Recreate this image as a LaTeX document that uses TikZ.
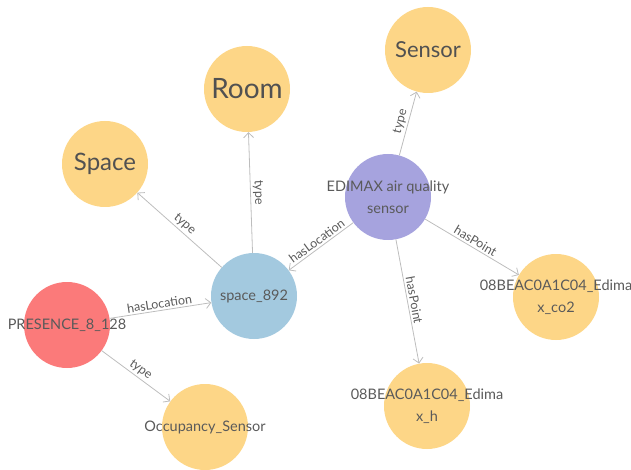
\documentclass[tikz,border=0pt]{standalone}
\usepackage{fontspec}
\setmainfont{Lato}
\usepackage{tikz}
\usetikzlibrary{arrows.meta}

\definecolor{yel}{HTML}{FDD687}
\definecolor{pur}{HTML}{A6A3DE}
\definecolor{blu}{HTML}{A3C9DF}
\definecolor{rd}{HTML}{FB7A7A}
\definecolor{edge}{HTML}{BDBDBD}
\definecolor{txt}{HTML}{5A5A5A}

\tikzset{
  ball/.style={circle, fill=#1, minimum size=86pt, inner sep=0pt},
  small/.style={text=txt, align=center, font=\fontsize{14.5}{22}\selectfont},
  big/.style={text=txt!90!black, font=\fontsize{#1}{#1}\selectfont},
  rel/.style={draw=edge, line width=0.8pt, -{Straight Barb[length=5pt,width=10pt]}},
  lbl/.style={text=txt, font=\fontsize{12.5}{13}\selectfont, sloped, above, inner sep=2pt}
}

\begin{document}
\begin{tikzpicture}[x=1pt, y=-1pt]

    \useasboundingbox (0,0) rectangle (631,470);

    \node[ball=yel, label={[big=22]center:Sensor}] (sensor) at (428, 50) {};
    \node[ball=yel, label={[big=28]center:Room}] (room) at (247, 89) {};
    \node[ball=yel, label={[big=24]center:Space}] (space) at (105, 164) {};
    \node[ball=pur, label={[small]center:EDIMAX air quality\\sensor}] (edimax) at (388, 197) {};
    \node[ball=blu, label={[small]center:space\_892}] (sp) at (254, 296) {};
    \node[ball=rd, label={[small]center:PRESENCE\_8\_128}] (pres) at (67, 325) {};
    \node[ball=yel, label={[small]center:Occupancy\_Sensor}] (occ) at (205, 427) {};
    \node[ball=yel, label={[small]center:08BEAC0A1C04\_Edima\\x\_co2}] (co) at (556, 297) {};
    \node[ball=yel, label={[small]center:08BEAC0A1C04\_Edima\\x\_h}] (hum) at (427, 406) {};

    \draw [rel] (edimax) to node [lbl] {type} (sensor);
    \draw [rel] (sp) to node [lbl] {type} (room);
    \draw [rel] (sp) to node [lbl] {type} (space);
    \draw [rel] (edimax) to node [lbl] {hasLocation} (sp);
    \draw [rel] (edimax) to node [lbl] {hasPoint} (co);
    \draw [rel] (edimax) to node [lbl] {hasPoint} (hum);
    \draw [rel] (pres) to node [lbl] {hasLocation} (sp);
    \draw [rel] (pres) to node [lbl] {type} (occ);

\end{tikzpicture}
\end{document}
